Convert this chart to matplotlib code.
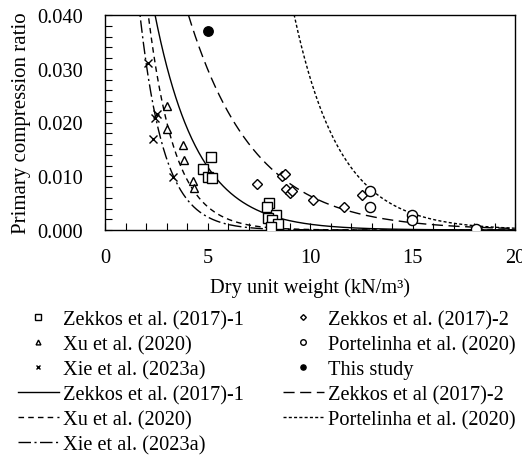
import numpy as np
import matplotlib
matplotlib.use("Agg")
import matplotlib.pyplot as plt
from matplotlib.ticker import MultipleLocator, FormatStrFormatter

plt.rcParams['font.family'] = ['Liberation Serif', 'DejaVu Serif']

# ---- data ----
zek1_x = [5.15, 4.76, 5.0, 5.2, 8.0, 7.89, 8.33, 7.93, 8.13, 8.46, 8.1]
zek1_y = [0.0136, 0.0114, 0.0099, 0.0097, 0.0051, 0.0043, 0.0028, 0.0023, 0.0018, 0.0012, 0.0006]

xu_x = [3.0, 3.0, 3.82, 3.85, 4.31, 4.34]
xu_y = [0.0231, 0.0187, 0.0158, 0.0130, 0.0091, 0.0079]

xie_x = [2.1, 2.36, 2.45, 2.55, 3.3]
xie_y = [0.0310, 0.0169, 0.0209, 0.0215, 0.0099]

zek2_x = [7.40, 8.62, 8.78, 8.81, 9.0, 9.1, 10.13, 11.67, 12.52, 18.13]
zek2_y = [0.0086, 0.0100, 0.0105, 0.0076, 0.0069, 0.0073, 0.0056, 0.0043, 0.0066, 0.0001]

port_x = [12.93, 12.93, 14.96, 14.96, 18.1]
port_y = [0.0073, 0.0043, 0.0027, 0.0019, 0.0001]

this_x = [5.0]
this_y = [0.037]

# exponential trend lines y = a * exp(-b * x)
trend_names = ['Zekkos et al. (2017)-1', 'Xu et al. (2020)', 'Xie et al. (2023a)',
               'Zekkos et al (2017)-2', 'Portelinha et al. (2020)']
trend_a = [0.1285, 0.2026, 0.1709, 0.1412, 2.4300]
trend_b = [0.478, 0.768, 0.850, 0.310, 0.445]

xticks = [0, 5, 10, 15, 20]
yticks = [0.000, 0.010, 0.020, 0.030, 0.040]

# ---- figure ----
fig = plt.figure(figsize=(5.22, 4.60), dpi=100)
ax = fig.add_axes([105/522, 1-231/460, 410/522, 215/460])

fs = 14.7
ms = 6.8
ax.plot(zek1_x, zek1_y, ls='none', marker='s', mfc='white', mec='black', mew=1.0, ms=ms, label='Zekkos et al. (2017)-1', zorder=3)
ax.plot(xu_x, xu_y, ls='none', marker='^', mfc='white', mec='black', mew=1.0, ms=ms-0.5, label='Xu et al. (2020)', zorder=3)
ax.plot(xie_x, xie_y, ls='none', marker='x', color='black', mew=1.0, ms=ms-0.5, label='Xie et al. (2023a)', zorder=3)

styles = ['-', (0, (4, 3)), (0, (9, 2.5, 1.5, 2.5)), (0, (8, 4)), (0, (2.2, 1.6))]
lines = []
xs = np.linspace(0.5, 20, 800)
for name, a, b, st in zip(trend_names, trend_a, trend_b, styles):
    ys = a * np.exp(-b * xs)
    ln, = ax.plot(xs, ys, color='black', lw=1.0, ls=st, label=name, zorder=2)
    lines.append(ln)

h_z2, = ax.plot(zek2_x, zek2_y, ls='none', marker='D', mfc='white', mec='black', mew=1.0, ms=ms-1.5, label='Zekkos et al. (2017)-2', zorder=3)
h_po, = ax.plot(port_x, port_y, ls='none', marker='o', mfc='white', mec='black', mew=1.0, ms=ms+0.5, label='Portelinha et al. (2020)', zorder=3)
h_th, = ax.plot(this_x, this_y, ls='none', marker='o', mfc='black', mec='black', ms=ms, label='This study', zorder=3)

ax.set_xlim(0, 20)
ax.set_ylim(0, 0.040)
ax.set_xticks(xticks)
ax.set_yticks(yticks)
ax.xaxis.set_minor_locator(MultipleLocator(1))
ax.yaxis.set_minor_locator(MultipleLocator(0.002))
ax.yaxis.set_major_formatter(FormatStrFormatter('%.3f'))
ax.tick_params(which='both', direction='in', length=5, width=0.8, labelsize=fs)
ax.tick_params(axis='y', which='major', pad=16)
ax.tick_params(axis='x', which='major', pad=13)
for s in ax.spines.values():
    s.set_linewidth(1.0)

ax.set_xlabel('Dry unit weight (kN/m³)', fontsize=fs, labelpad=7)
ax.set_ylabel('Primary compression ratio', fontsize=fs + 0.3, labelpad=4)

hs = ax.get_legend_handles_labels()[0]
handles = [hs[0], hs[1], hs[2], lines[0], lines[1], lines[2], h_z2, h_po, h_th, lines[3], lines[4]]
labels = [h.get_label() for h in handles]
leg = fig.legend(handles, labels, ncol=2, loc='upper left', bbox_to_anchor=(18/522, 1-311/460),
                 frameon=False, fontsize=fs, handlelength=2.0, handletextpad=0.2,
                 columnspacing=1.9, labelspacing=0.28, markerscale=0.55, borderpad=0, borderaxespad=0)

fig.savefig('out.png', dpi=100)
